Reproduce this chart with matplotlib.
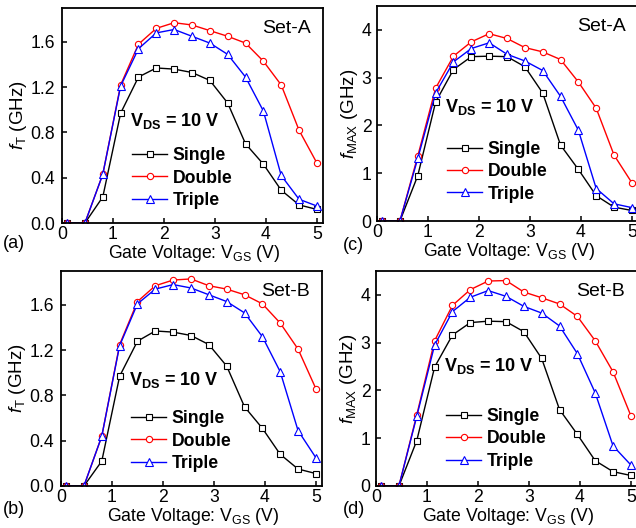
import numpy as np
import matplotlib
matplotlib.use("Agg")
import matplotlib.pyplot as plt

plt.rcParams['font.family'] = ['Liberation Sans', 'DejaVu Sans']
plt.rcParams['mathtext.fontset'] = 'custom'
plt.rcParams['mathtext.rm'] = 'Liberation Sans'
plt.rcParams['mathtext.it'] = 'Liberation Sans:italic'
plt.rcParams['mathtext.bf'] = 'Liberation Sans:bold'

# gate voltage sweep (V)
vgs = [0.1, 0.45, 0.8, 1.15, 1.5, 1.85, 2.2, 2.55, 2.9, 3.25, 3.6, 3.95, 4.3, 4.65, 5.0]
series_names = ["Single", "Double", "Triple"]

# fT (GHz), Set-A
ft_a_single = [0.0, 0.0, 0.23, 0.97, 1.29, 1.37, 1.36, 1.33, 1.26, 1.06, 0.70, 0.52, 0.29, 0.16, 0.12]
ft_a_double = [0.0, 0.0, 0.43, 1.22, 1.58, 1.72, 1.77, 1.75, 1.70, 1.65, 1.59, 1.43, 1.22, 0.82, 0.53]
ft_a_triple = [0.0, 0.0, 0.43, 1.21, 1.54, 1.68, 1.71, 1.65, 1.59, 1.49, 1.29, 0.99, 0.42, 0.21, 0.15]

# fT (GHz), Set-B
ft_b_single = [0.0, 0.0, 0.22, 0.97, 1.28, 1.37, 1.36, 1.33, 1.25, 1.06, 0.70, 0.51, 0.28, 0.15, 0.11]
ft_b_double = [0.0, 0.0, 0.44, 1.25, 1.63, 1.77, 1.82, 1.83, 1.77, 1.74, 1.69, 1.61, 1.44, 1.21, 0.86]
ft_b_triple = [0.0, 0.0, 0.44, 1.24, 1.61, 1.74, 1.78, 1.75, 1.69, 1.63, 1.53, 1.32, 1.01, 0.49, 0.25]

# fMAX (GHz), Set-A
fmax_a_single = [0.0, 0.0, 0.95, 2.49, 3.17, 3.44, 3.45, 3.44, 3.23, 2.68, 1.59, 1.08, 0.53, 0.29, 0.22]
fmax_a_double = [0.0, 0.0, 1.36, 2.78, 3.45, 3.75, 3.92, 3.82, 3.63, 3.54, 3.38, 2.91, 2.36, 1.38, 0.80]
fmax_a_triple = [0.0, 0.0, 1.31, 2.68, 3.33, 3.61, 3.73, 3.49, 3.35, 3.15, 2.61, 1.90, 0.68, 0.36, 0.28]

# fMAX (GHz), Set-B
fmax_b_single = [0.0, 0.0, 0.95, 2.49, 3.16, 3.42, 3.45, 3.44, 3.23, 2.67, 1.60, 1.08, 0.53, 0.30, 0.22]
fmax_b_double = [0.0, 0.0, 1.49, 3.04, 3.78, 4.11, 4.29, 4.30, 4.06, 3.94, 3.81, 3.55, 3.04, 2.39, 1.47]
fmax_b_triple = [0.0, 0.0, 1.46, 2.95, 3.65, 3.95, 4.09, 3.97, 3.76, 3.62, 3.35, 2.77, 1.95, 0.84, 0.44]

colors = ["black", "red", "blue"]
markers = ["s", "o", "^"]
msizes = [3.8, 4.5, 5.2]
FS = 12.7

fig = plt.figure(figsize=(6.36, 5.28), dpi=100)

W = 261 / 636
H = 215 / 528
panels = [
    # rect, data, ylabel, ylim, yticks, fmt, y pad, label pad, set label, tag, tag pos, vds y, legend y
    ([62 / 636, 1 - 223 / 528, W, H], (ft_a_single, ft_a_double, ft_a_triple),
     r'$f_{\mathrm{T}}$ (GHz)', 1.9, [0, 0.4, 0.8, 1.2, 1.6], "%.1f", 5, 0.5,
     "Set-A", "(a)", (3, 244), 0.475, 0.352),
    ([61 / 636, 1 - 486 / 528, W, H], (ft_b_single, ft_b_double, ft_b_triple),
     r'$f_{\mathrm{T}}$ (GHz)', 1.9, [0, 0.4, 0.8, 1.2, 1.6], "%.1f", 5, 0.5,
     "Set-B", "(b)", (3, 510), 0.495, 0.352),
    ([377 / 636, 1 - 221 / 528, W, H], (fmax_a_single, fmax_a_double, fmax_a_triple),
     r'$f_{\mathrm{MAX}}$ (GHz)', 4.5, [0, 1, 2, 3, 4], "%d", 4, 1,
     "Set-A", "(c)", (343, 245), 0.532, 0.372),
    ([376 / 636, 1 - 486 / 528, W, H], (fmax_b_single, fmax_b_double, fmax_b_triple),
     r'$f_{\mathrm{MAX}}$ (GHz)', 4.5, [0, 1, 2, 3, 4], "%d", 4, 1,
     "Set-B", "(d)", (343, 510), 0.56, 0.362),
]

for (rect, data, ylabel, ymax, yticks, fmt, ypad, lpad,
     setlabel, tag, tagpos, vds_y, leg_y) in panels:
    ax = fig.add_axes(rect)
    for vals, name, c, m, ms in zip(data, series_names, colors, markers, msizes):
        ax.plot(vgs, vals, color=c, marker=m, markersize=ms, markerfacecolor="white",
                markeredgecolor=c, markeredgewidth=0.8, linewidth=1.0, label=name)
    ax.set_xlim(0, 5.12)
    ax.set_ylim(0, ymax)
    ax.set_xticks([0, 1, 2, 3, 4, 5])
    ax.set_yticks(yticks)
    ax.yaxis.set_major_formatter(matplotlib.ticker.FormatStrFormatter(fmt))
    ax.tick_params(direction="in", length=3.5, width=1.1, labelsize=FS)
    ax.tick_params(axis="x", pad=2)
    ax.tick_params(axis="y", pad=ypad)
    for sp in ax.spines.values():
        sp.set_linewidth(1.3)
    ax.set_xlabel(r'Gate Voltage: V$_{\mathrm{GS}}$ (V)', fontsize=FS, ha="left")
    ax.xaxis.set_label_coords(0.176, -0.095)
    ax.set_ylabel(ylabel, fontsize=13.5, labelpad=lpad)
    ax.text(0.955, 0.905, setlabel, transform=ax.transAxes, ha="right", va="center", fontsize=14)
    ax.text(0.26, vds_y, r'V$_{\mathbf{DS}}$ = 10 V', transform=ax.transAxes,
            ha="left", va="center", fontsize=13, fontweight="bold")
    ax.legend(loc="upper left", bbox_to_anchor=(0.268, leg_y), frameon=False,
              handlelength=2.0, handletextpad=0.3, labelspacing=0.3, borderpad=0,
              borderaxespad=0, prop={"weight": "bold", "size": FS})
    fig.text(tagpos[0] / 636, 1 - tagpos[1] / 528, tag, ha="left", va="center", fontsize=13)

fig.savefig("out.png", dpi=100)
